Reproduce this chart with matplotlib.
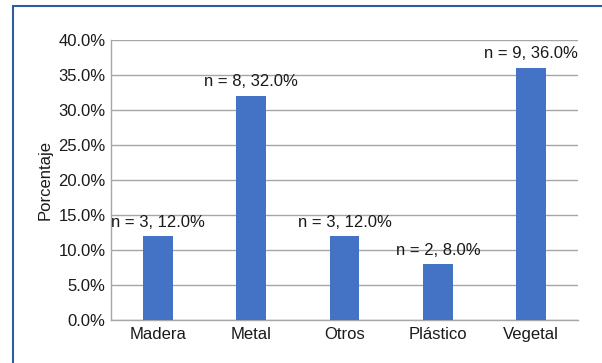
import matplotlib.pyplot as plt
from matplotlib.patches import Rectangle
from matplotlib.ticker import PercentFormatter

categorias = ['Madera', 'Metal', 'Otros', 'Plástico', 'Vegetal']
conteos = [3, 8, 3, 2, 9]
porcentajes = [12.0, 32.0, 12.0, 8.0, 36.0]

plt.rcParams['font.family'] = ['Liberation Sans', 'DejaVu Sans']

fig = plt.figure(figsize=(6.02, 3.63), dpi=100)
ax = fig.add_axes([0.1844, 0.1185, 0.7756, 0.7725])

x = range(len(categorias))
ax.bar(x, porcentajes, width=0.32, color='#4472C4', zorder=3)
for i, (n, p) in enumerate(zip(conteos, porcentajes)):
    ax.text(i, p + 0.9, f'n = {n}, {p:.1f}%', ha='center', va='bottom',
            fontsize=12, color='#1a1a1a', zorder=4)

ax.set_xlim(-0.5, len(categorias) - 0.5)
ax.set_ylim(0, 40)
ax.set_yticks(range(0, 41, 5))
ax.yaxis.set_major_formatter(PercentFormatter(decimals=1))
ax.set_xticks(list(x))
ax.set_xticklabels(categorias)
ax.tick_params(axis='both', length=0, labelsize=12, colors='#1a1a1a')
ax.tick_params(axis='x', pad=5)
ax.tick_params(axis='y', pad=4)
ax.grid(axis='y', color='#A6A6A6', linewidth=1, zorder=0)
for s in ['top', 'right']:
    ax.spines[s].set_visible(False)
for s in ['left', 'bottom']:
    ax.spines[s].set_color('#A6A6A6')
    ax.spines[s].set_linewidth(1)
ax.set_ylabel('Porcentaje', fontsize=12, color='#1a1a1a', labelpad=4)

# blue frame around the chart
fig.patches.append(Rectangle((13 / 602, -0.05), 1.0, 1.05 - 6 / 363,
                             transform=fig.transFigure, fill=False,
                             edgecolor='#2E5C9E', linewidth=1.5))

fig.savefig('out.png', dpi=100)
